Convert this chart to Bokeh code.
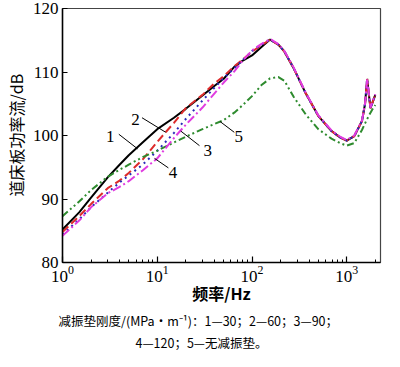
from bokeh.plotting import figure
from bokeh.models import FixedTicker, LogTicker, Title
from bokeh.embed import file_html
from bokeh.resources import INLINE
from bokeh.core.properties import value

# ---- data ----
freq = [1, 1.5, 2, 3, 4, 5, 7, 10, 15, 20, 30, 40, 50, 65, 80, 100, 125, 155,
        190, 220, 275, 370, 500, 690, 850, 1000, 1200, 1450, 1560, 1640, 1700, 1780, 1880, 2000]

s1 = [85.2, 87.9, 90.2, 93.4, 95.4, 96.9, 98.9, 101.0, 102.8, 104.2, 106.3, 107.8, 108.9, 110.8, 111.8, 112.6, 113.9, 115.1,
      114.3, 113.2, 110.6, 106.6, 103.1, 100.7, 99.7, 99.2, 99.9, 102.3, 105.0, 108.9, 106.8, 104.3, 105.3, 106.4]
s2 = [84.8, 87.3, 89.2, 91.7, 92.9, 94.1, 96.2, 99.0, 102.0, 104.3, 106.4, 108.2, 109.3, 110.9, 112.0, 113.2, 114.2, 115.1,
      114.3, 113.2, 110.6, 106.6, 103.1, 100.7, 99.7, 99.2, 99.9, 102.3, 105.0, 108.9, 106.8, 104.3, 105.3, 106.4]
s3 = [84.4, 86.8, 88.7, 91.0, 92.6, 93.7, 95.4, 97.6, 100.4, 102.6, 105.5, 107.5, 109.0, 110.6, 111.9, 113.3, 114.3, 115.1,
      114.3, 113.2, 110.6, 106.6, 103.1, 100.7, 99.7, 99.2, 99.9, 102.3, 105.0, 108.9, 106.8, 104.3, 105.3, 106.4]
s4 = [84.2, 86.6, 88.7, 90.9, 91.9, 92.8, 94.5, 96.4, 99.6, 101.7, 104.4, 106.6, 108.3, 110.1, 111.8, 113.4, 114.4, 115.2,
      114.4, 113.3, 110.7, 106.7, 103.2, 100.8, 99.8, 99.3, 100.0, 102.4, 105.1, 108.9, 106.9, 104.4, 105.4, 106.5]
s5 = [87.3, 89.6, 91.4, 93.5, 94.6, 95.4, 96.6, 97.6, 98.9, 99.8, 101.0, 101.8, 102.4, 103.6, 104.8, 106.2, 107.9, 109.0,
      109.2, 108.6, 106.1, 103.3, 101.0, 99.5, 98.8, 98.4, 98.8, 100.9, 101.9, 102.6, 103.0, 103.6, 104.2, 104.8]

y_ticks = [80, 90, 100, 110, 120]

# curve number labels and their leader lines (data coordinates)
lab_text = ["1", "2", "3", "4", "5"]
lab_x = [3.2, 5.9, 34.2, 14.7, 72.6]
lab_y = [99.9, 102.5, 97.6, 94.1, 99.8]
lead_x0 = [3.93, 6.9, 27.9, 13.1, 65.0]
lead_y0 = [100.2, 102.8, 98.4, 94.9, 100.5]
lead_x1 = [6.2, 12.3, 17.7, 9.35, 46.0]
lead_y1 = [97.9, 100.5, 100.7, 96.4, 102.2]

caption1 = "减振垫刚度/(MPa·m⁻¹)：1—30；2—60；3—90；"
caption2 = "4—120；5—无减振垫。"

SERIF = "Liberation Serif"
CJK = "Noto Sans CJK SC"

p = figure(width=384, height=351, x_axis_type="log", x_range=(1, 2270), y_range=(80, 120),
           output_backend="svg", toolbar_location=None,
           min_border_left=49, min_border_right=4, min_border_top=8, min_border_bottom=0)
p.background_fill_color = "white"
p.border_fill_color = "white"
p.outline_line_color = "#444444"
p.outline_line_width = 1.2
p.grid.visible = False

p.line(freq, s1, line_color="black", line_width=2)
p.line(freq, s2, line_color="#dd2b2b", line_width=2, line_dash="8 4")
p.line(freq, s3, line_color="#2a2ab8", line_width=2, line_dash="2 4")
p.line(freq, s5, line_color="#2e8b2e", line_width=2, line_dash="7 3 2 3 2 3")
p.line(freq, s4, line_color="#e03ce0", line_width=2, line_dash="9 3 2 3")

p.segment(x0=lead_x0, y0=lead_y0, x1=lead_x1, y1=lead_y1, line_color="black", line_width=1)
p.text(x=lab_x, y=lab_y, text=lab_text, text_font=value(SERIF),
       text_font_size="17px", text_align="center", text_baseline="middle", text_color="black")

# axes
xa = p.xaxis[0]
xa.ticker = LogTicker(num_minor_ticks=10)
xa.major_tick_in = 6
xa.major_tick_out = 0
xa.minor_tick_in = 3
xa.minor_tick_out = 0
xa.axis_line_width = 1.5
xa.major_tick_line_width = 1.2
xa.major_label_text_font = SERIF
xa.major_label_text_font_size = "17px"
xa.major_label_text_color = "black"
xa.major_label_standoff = 3
xa.axis_label = "频率/Hz"
xa.axis_label_text_font = CJK
xa.axis_label_text_font_style = "bold"
xa.axis_label_text_font_size = "16px"
xa.axis_label_text_color = "black"
xa.axis_label_standoff = -4

ya = p.yaxis[0]
ya.ticker = FixedTicker(ticks=y_ticks)
ya.major_tick_in = 5
ya.major_tick_out = 0
ya.minor_tick_line_color = None
ya.axis_line_width = 1.5
ya.major_tick_line_width = 1.2
ya.major_label_text_font = SERIF
ya.major_label_text_font_size = "17px"
ya.major_label_text_color = "black"
ya.major_label_standoff = 4
ya.axis_label = "道床板功率流/dB"
ya.axis_label_text_font = CJK
ya.axis_label_text_font_style = "normal"
ya.axis_label_text_font_size = "16px"
ya.axis_label_text_color = "black"
ya.axis_label_standoff = 2

# caption lines below the x axis
p.add_layout(Title(text=caption1, align="left", offset=-4, standoff=2,
                   text_font=CJK, text_font_size="12.5px", text_font_style="normal", text_color="black"), "below")
p.add_layout(Title(text=caption2, align="left", offset=73, standoff=0,
                   text_font=CJK, text_font_size="12.5px", text_font_style="normal", text_color="black"), "below")

open("out.html", "w").write(file_html(p, INLINE))
